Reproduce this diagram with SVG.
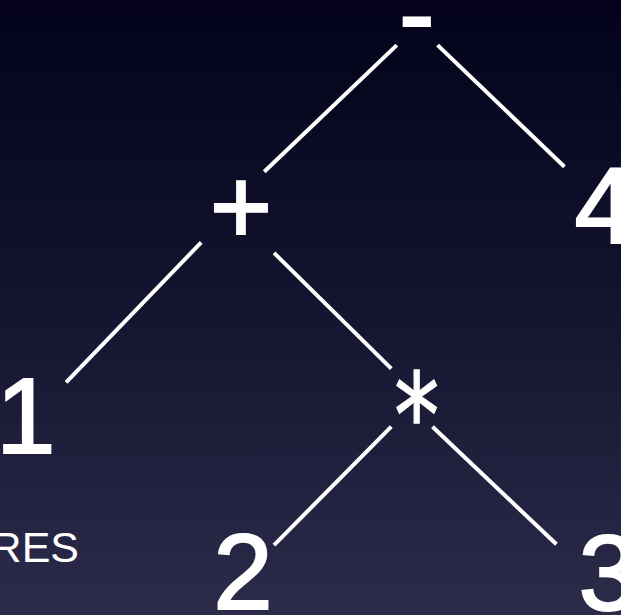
<svg xmlns="http://www.w3.org/2000/svg" width="621" height="615" viewBox="0 0 621 615">
  <defs>
    <linearGradient id="bg" x1="0" y1="0" x2="0" y2="1">
      <stop offset="0" stop-color="#03021a"/>
      <stop offset="0.5" stop-color="#141430"/>
      <stop offset="1" stop-color="#2c2b4a"/>
    </linearGradient>
    <style>
      .n { fill: #ffffff; stroke: #ffffff; stroke-width: 2; font-family: "Liberation Sans", Arial, sans-serif; font-size: 107px; }
      .ast { fill: #ffffff; stroke: #ffffff; stroke-width: 1.5; font-family: "DejaVu Sans", sans-serif; font-size: 115px; }
      .cap { fill: #ffffff; font-family: "Liberation Sans", Arial, sans-serif; font-size: 43px; }
      .edge { stroke: #ffffff; stroke-width: 4; fill: none; }
    </style>
  </defs>
  <rect width="621" height="615" fill="url(#bg)"/>
  <g id="connectors">
    <line class="edge" x1="396.8" y1="45.1" x2="264.2" y2="171.8"/>
    <line class="edge" x1="437.6" y1="45.1" x2="564.4" y2="166.7"/>
    <line class="edge" x1="201.2" y1="242.4" x2="66.1" y2="382.4"/>
    <line class="edge" x1="274" y1="252.9" x2="391.3" y2="368.6"/>
    <line class="edge" x1="391.3" y1="426.7" x2="274" y2="545.1"/>
    <line class="edge" x1="432.5" y1="426.7" x2="556.4" y2="544.3"/>
  </g>
  <g id="node-minus"><text class="n" x="416.7" y="50" text-anchor="middle">-</text></g>
  <g id="node-plus"><text class="n" x="241" y="243.3" text-anchor="middle">+</text></g>
  <g id="node-4"><text class="n" x="574.5" y="243.3">4</text></g>
  <g id="node-1"><text class="n" x="-4" y="452.7">1</text></g>
  <g id="node-times"><text class="ast" transform="translate(416.7,455.7) scale(0.78,1)" x="0" y="0" text-anchor="middle">*</text></g>
  <g id="node-2"><text class="n" x="243" y="609" text-anchor="middle">2</text></g>
  <g id="node-3"><text class="n" x="578.5" y="610">3</text></g>
  <g id="caption"><text class="cap" x="79" y="562" text-anchor="end">RES</text></g>
</svg>
